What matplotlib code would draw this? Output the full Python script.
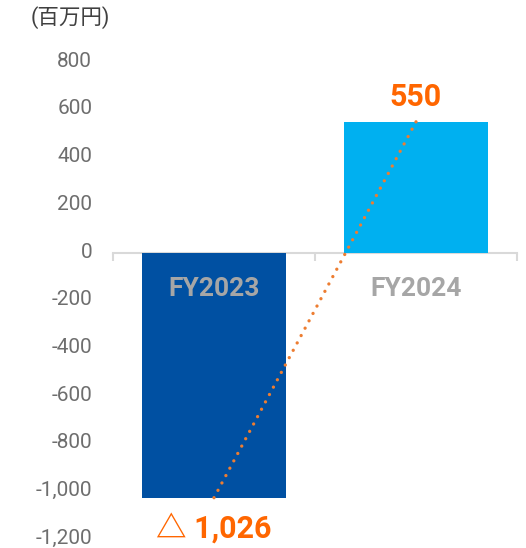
import matplotlib
matplotlib.use("Agg")
import matplotlib.pyplot as plt
import matplotlib.transforms as mtransforms

# data
categories = ["FY2023", "FY2024"]
values = [-1026, 550]
value_labels = ["△ 1,026", "550"]
y_ticks = [-1200, -1000, -800, -600, -400, -200, 0, 200, 400, 600, 800]
unit_label = "(百万円)"

plt.rcParams['font.family'] = ['Roboto', 'Noto Sans CJK JP', 'DejaVu Sans']

fig = plt.figure(figsize=(5.26, 5.48), dpi=100)
ax = fig.add_axes([113 / 526, 8.8 / 548, 404 / 526, 477 / 548])

x = list(range(len(categories)))
bar_colors = ["#0050A2", "#00B0F0"]
ax.bar(x, values, width=0.716, color=bar_colors, zorder=1)

# dotted line joining the bar ends
ax.plot(x, values, color="#ED7D31", lw=2.4, linestyle=(0, (0.01, 2.5)),
        dash_capstyle="round", zorder=3)

ax.set_xlim(-0.5, len(categories) - 0.5)
ax.set_ylim(-1200, 800)
ax.set_yticks(y_ticks)
ax.set_yticklabels([f"{v:,}" for v in y_ticks])
ax.tick_params(axis="y", length=0, pad=15, labelsize=15, labelcolor="#6E6E6E")
shift_up = mtransforms.ScaledTranslation(0, 3 / 100, fig.dpi_scale_trans)
for lab in ax.get_yticklabels():
    lab.set_transform(lab.get_transform() + shift_up)

for s in ["top", "right", "left"]:
    ax.spines[s].set_visible(False)
ax.spines["bottom"].set_position(("data", 0))
ax.spines["bottom"].set_color("#D9D9D9")
ax.spines["bottom"].set_linewidth(1.5)
ax.spines["bottom"].set_zorder(0.5)
ax.set_xticks([i - 0.5 for i in range(len(categories) + 1)])
ax.set_xticklabels([])
ax.tick_params(axis="x", length=6, width=1.5, color="#D9D9D9", direction="out")

# category names under the zero line
for xi, cat in zip(x, categories):
    ax.annotate(cat, (xi, 0), xytext=(0, -26), textcoords="offset points",
                ha="center", va="center", fontsize=19, fontweight="bold",
                color="#A6A6A6", zorder=4)

# value labels
for xi, v, lab in zip(x, values, value_labels):
    off = 18 if v > 0 else -22
    ax.annotate(lab, (xi, v), xytext=(0, off), textcoords="offset points",
                ha="center", va="center", fontsize=22, fontweight="bold",
                color="#FF6600")

fig.text(31 / 526, 1 - 18 / 548, unit_label, fontsize=15.5, color="#404040",
         ha="left", va="center")

fig.savefig("out.png", dpi=100)
